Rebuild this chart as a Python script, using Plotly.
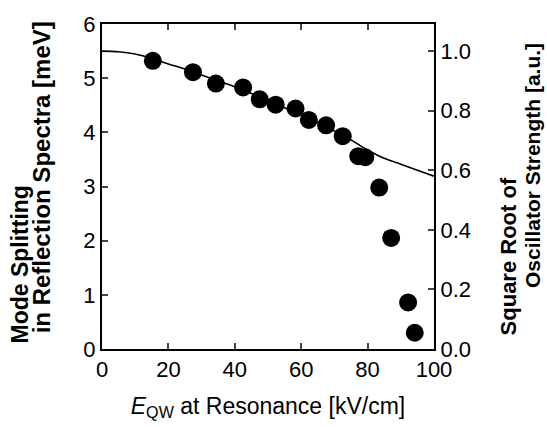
import plotly.graph_objects as go

# Measured mode splitting (meV) vs field (kV/cm)
e_field = [15.3, 27.4, 34.3, 42.5, 47.5, 52.3, 58.3, 62.3, 67.5, 72.5, 77.2, 79.3, 83.5, 87.1, 92.2, 94.2]
splitting = [5.32, 5.11, 4.90, 4.83, 4.61, 4.51, 4.44, 4.23, 4.13, 3.93, 3.56, 3.54, 2.98, 2.05, 0.86, 0.30]

# Calculated square root of oscillator strength (a.u.)
curve_x = [0, 5, 10, 15, 20, 25, 30, 35, 40, 45, 50, 55, 60, 65, 70, 75, 80, 85, 90, 95, 100]
curve_y = [1.0, 0.998, 0.99, 0.975, 0.957, 0.94, 0.92, 0.9, 0.88, 0.858, 0.835, 0.81, 0.785, 0.76, 0.732, 0.702, 0.668, 0.64, 0.62, 0.6, 0.58]

left_ticks = [0, 1, 2, 3, 4, 5, 6]
right_ticks = [0.0, 0.2, 0.4, 0.6, 0.8, 1.0]
x_ticks = [0, 20, 40, 60, 80, 100]

FONT = "Liberation Sans, Arial, sans-serif"

fig = go.Figure()
fig.add_trace(go.Scatter(x=curve_x, y=curve_y, mode="lines", yaxis="y2",
                         line=dict(color="black", width=1.6, shape="spline"),
                         showlegend=False))
fig.add_trace(go.Scatter(x=e_field, y=splitting, mode="markers",
                         marker=dict(color="black", size=18),
                         showlegend=False))

fig.update_layout(
    width=547, height=427,
    margin=dict(l=102, r=113, t=16, b=75),
    paper_bgcolor="white", plot_bgcolor="white",
    font=dict(family=FONT, size=22, color="black"),
    xaxis=dict(range=[0, 100], tickvals=x_ticks, ticks="inside", ticklen=6,
               tickwidth=1.5, showline=True, linewidth=2, linecolor="black",
               mirror="ticks", showgrid=False, zeroline=False,
               tickfont=dict(size=22),
               title=dict(text="<i>E</i><sub>QW</sub> at Resonance [kV/cm]",
                          font=dict(size=23), standoff=16)),
    yaxis=dict(range=[0, 6], tickvals=left_ticks, ticks="inside", ticklen=6,
               tickwidth=1.5, showline=True, linewidth=2, linecolor="black",
               showgrid=False, zeroline=False, tickfont=dict(size=22)),
    yaxis2=dict(range=[0, 6 / 5.5], tickvals=right_ticks, tickformat=".1f",
                overlaying="y", side="right", ticks="inside", ticklen=6,
                tickwidth=1.5, showline=True, linewidth=2, linecolor="black",
                showgrid=False, zeroline=False, tickfont=dict(size=22)),
)

ann = dict(xref="paper", yref="paper", showarrow=False, textangle=-90,
           yanchor="middle", xanchor="center")
fig.add_annotation(text="<b>Mode Splitting</b>", x=-0.25, y=0.26,
                   font=dict(family=FONT, size=23, color="black"), **ann)
fig.add_annotation(text="<b>in Reflection Spectra [meV]</b>", x=-0.184, y=0.528,
                   font=dict(family=FONT, size=24, color="black"), **ann)
fig.add_annotation(text="<b>Square Root of</b>", x=1.224, y=0.286,
                   font=dict(family=FONT, size=22, color="black"), **ann)
fig.add_annotation(text="<b>Oscillator Strength [a.u.]</b>", x=1.297, y=0.565,
                   font=dict(family=FONT, size=21, color="black"), **ann)

fig.write_html("out.html")
